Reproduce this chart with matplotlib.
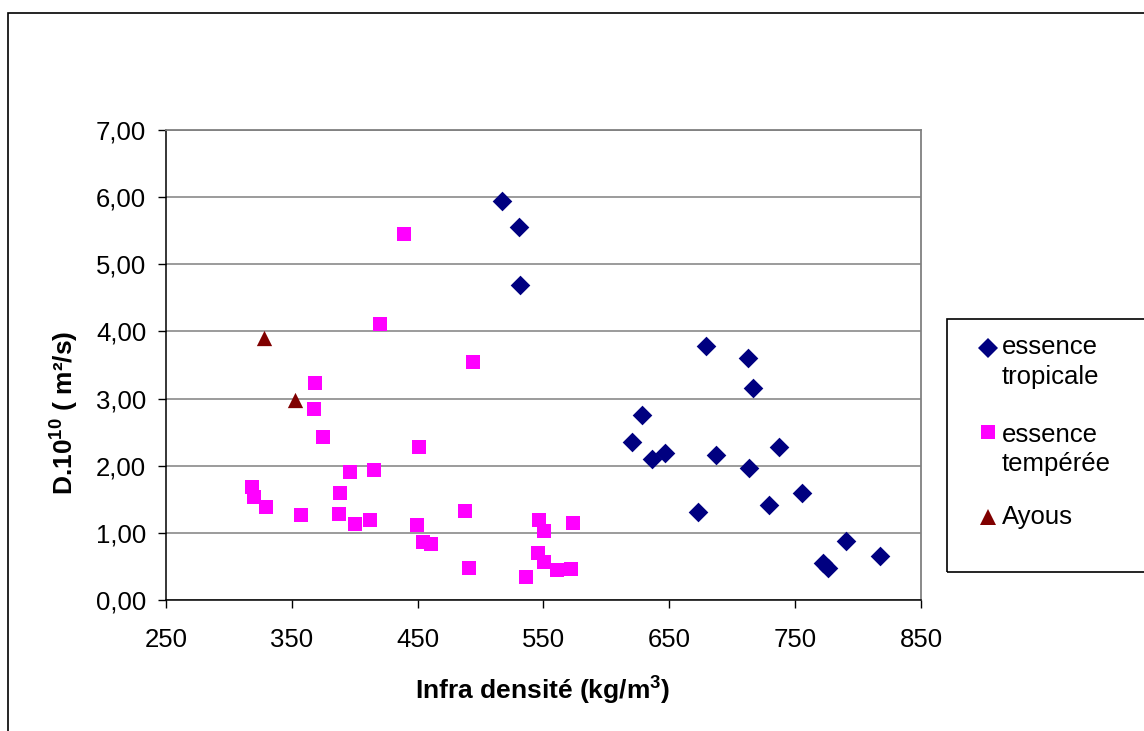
import matplotlib
matplotlib.use("Agg")
import matplotlib.pyplot as plt
from matplotlib.patches import Rectangle
from matplotlib.lines import Line2D

plt.rcParams['font.family'] = ['Liberation Sans', 'DejaVu Sans']
plt.rcParams['mathtext.fontset'] = 'custom'
plt.rcParams['mathtext.rm'] = 'Liberation Sans'
plt.rcParams['mathtext.bf'] = 'Liberation Sans:bold'

# ---- data ----
trop_x = [516.8, 530.3, 531.6, 679.3, 712.2, 716.6, 628.0, 620.5, 635.9, 646.5,
          686.8, 713.0, 737.1, 672.5, 728.9, 755.6, 790.8, 817.3, 772.3, 776.2]
trop_y = [5.95, 5.55, 4.69, 3.78, 3.61, 3.16, 2.76, 2.36, 2.10, 2.19,
          2.16, 1.97, 2.28, 1.31, 1.41, 1.60, 0.88, 0.65, 0.55, 0.48]

temp_x = [439.4, 420.1, 494.2, 368.5, 367.7, 374.6, 451.4, 396.6, 415.6, 318.2,
          320.3, 329.6, 357.1, 388.6, 387.8, 400.5, 412.2, 449.5, 454.5, 460.6,
          487.6, 490.6, 536.1, 546.4, 550.6, 545.6, 550.6, 560.7, 571.8, 573.7]
temp_y = [5.45, 4.11, 3.55, 3.23, 2.84, 2.43, 2.28, 1.91, 1.94, 1.69,
          1.54, 1.38, 1.27, 1.60, 1.28, 1.13, 1.19, 1.12, 0.86, 0.84,
          1.33, 0.47, 0.34, 1.19, 1.03, 0.70, 0.57, 0.45, 0.46, 1.14]

ayous_x = [328.2, 352.6]
ayous_y = [3.90, 2.98]

x_ticks = [250, 350, 450, 550, 650, 750, 850]
y_ticks = [0, 1, 2, 3, 4, 5, 6, 7]
y_ticklabels = ['0,00', '1,00', '2,00', '3,00', '4,00', '5,00', '6,00', '7,00']

series_names = ['essence\ntropicale', 'essence\ntempérée', 'Ayous']
series_colors = ['#000080', '#FF00FF', '#800000']
series_markers = ['D', 's', '^']
series_sizes = [10.0, 9.4, 11.0]

W, H = 1144, 731
FS = 18.5
FS_LABEL = 19
fig = plt.figure(figsize=(W / 100, H / 100), dpi=100)
fig.patch.set_facecolor('white')

def fx(px):
    return px / W

def fy(py):
    return 1 - py / H

ax = fig.add_axes([fx(165.8), fy(600), fx(921) - fx(165.8), fy(130) - fy(600)])
ax.set_xlim(250, 850)
ax.set_ylim(0, 7)

ax.scatter(trop_x, trop_y, marker=series_markers[0], s=series_sizes[0] ** 2,
           color=series_colors[0], linewidths=0, zorder=3)
ax.scatter(temp_x, temp_y, marker=series_markers[1], s=series_sizes[1] ** 2,
           color=series_colors[1], linewidths=0, zorder=3)
ax.scatter(ayous_x, ayous_y, marker=series_markers[2], s=series_sizes[2] ** 2,
           color=series_colors[2], linewidths=0, zorder=3)

ax.set_xticks(x_ticks)
ax.set_xticklabels([str(v) for v in x_ticks])
ax.set_yticks(y_ticks)
ax.set_yticklabels(y_ticklabels)
ax.yaxis.grid(True, color='#808080', linewidth=1.1)
ax.set_axisbelow(True)

for s in ['top', 'right']:
    ax.spines[s].set_color('#808080')
    ax.spines[s].set_linewidth(1.3)
for s in ['left', 'bottom']:
    ax.spines[s].set_color('#000000')
    ax.spines[s].set_linewidth(1.1)

ax.tick_params(axis='both', direction='out', length=6, width=1, color='#000000',
               labelsize=FS, labelcolor='#000000')
ax.tick_params(axis='x', pad=14)
ax.tick_params(axis='y', pad=8)

# axis titles
fig.text(fx(543), fy(690), r'Infra densité (kg/m$^{\mathbf{3}}$)', ha='center', va='center',
         fontsize=FS_LABEL, fontweight='bold')
fig.text(fx(64), fy(413), r'D.10$^{\mathbf{10}}$ ( m²/s)', ha='center', va='center',
         rotation=90, fontsize=FS_LABEL, fontweight='bold')

# outer chart frame
fig.add_artist(Rectangle((fx(8), fy(760)), fx(1200) - fx(8), fy(13) - fy(760),
                         transform=fig.transFigure, fill=False, edgecolor='#000000',
                         linewidth=1.2, clip_on=False))

# legend (drawn manually)
fig.add_artist(Rectangle((fx(947), fy(572)), fx(1200) - fx(947), fy(319) - fy(572),
                         transform=fig.transFigure, fill=False, edgecolor='#000000',
                         linewidth=1.2, clip_on=False))
marker_y = [348, 432, 517]
line_y = [[347, 377], [435, 464], [517]]
for i, name in enumerate(series_names):
    fig.add_artist(Line2D([fx(987.5)], [fy(marker_y[i])], transform=fig.transFigure,
                          marker=series_markers[i], markersize=series_sizes[i],
                          color=series_colors[i], linestyle='none', markeredgewidth=0))
    for j, part in enumerate(name.split('\n')):
        fig.text(fx(1002), fy(line_y[i][j]), part, ha='left', va='center',
                 fontsize=FS, color='#000000')

fig.savefig('out.png', dpi=100, facecolor='white')
